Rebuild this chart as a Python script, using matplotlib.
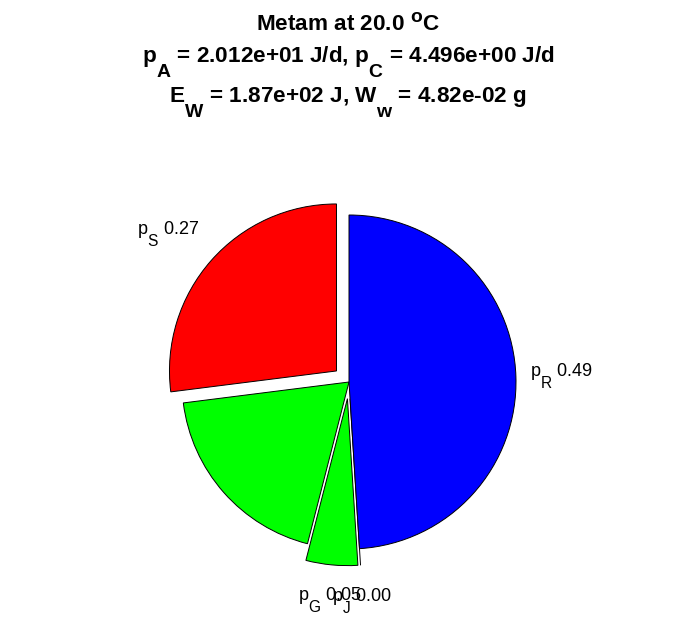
import matplotlib
matplotlib.use('Agg')
import matplotlib.pyplot as plt
import matplotlib._mathtext as _mt
import numpy as np

plt.rcParams['font.family'] = ['Liberation Sans', 'DejaVu Sans']
plt.rcParams['mathtext.fontset'] = 'custom'
plt.rcParams['mathtext.rm'] = 'Liberation Sans'
plt.rcParams['mathtext.it'] = 'Liberation Sans'
plt.rcParams['mathtext.bf'] = 'Liberation Sans:bold'

# MATLAB-style TeX: larger, lower subscripts
_mt.SHRINK_FACTOR = 0.86
_mt.FontConstantsBase.sub1 = 1.25
_mt.FontConstantsBase.sup1 = 0.7

# ---- data ----
species = 'Metam'
temp_C = 20.0
p_A = 2.012e+01
p_C = 4.496e+00
E_W = 1.87e+02
W_w = 4.82e-02

flux_labels = ['p_S', '', 'p_G', 'p_J', 'p_R']
fractions = [0.27, 0.19, 0.05, 0.00, 0.49]
colors = ['#ff0000', '#00ff00', '#00ff00', '#00ff00', '#0000ff']
explode = [0.1, 0.0, 0.1, 0.1, 0.0]

# ---- figure ----
W, H = 696, 618
fig = plt.figure(figsize=(W / 100, H / 100), dpi=100)
ax = fig.add_axes([0, 0, 1, 1])

wedges, _ = ax.pie(fractions, colors=colors, explode=explode, startangle=90,
                   counterclock=True, radius=1.0,
                   wedgeprops=dict(edgecolor='black', linewidth=0.7))

# geometry: pie centre at pixel (349, 382 from top), radius 167 px
R_px = 167.0
cx_px, cy_px = 349.0, H - 382.0
ax.set_xlim(-cx_px / R_px, (W - cx_px) / R_px)
ax.set_ylim(-cy_px / R_px, (H - cy_px) / R_px)
ax.set_aspect('auto')
ax.axis('off')

for w, lab, frac in zip(wedges, flux_labels, fractions):
    if not lab:
        continue
    mid = np.deg2rad((w.theta1 + w.theta2) / 2)
    c = np.cos(mid)
    s = np.sin(mid)
    x = w.center[0] + 1.1 * c
    y = w.center[1] + 1.1 * s
    ha = 'left' if c > 0.2 else ('right' if c < -0.2 else 'center')
    va = 'bottom' if s > 0.2 else ('top' if s < -0.2 else 'center')
    dy = -3 if va == 'top' else 0
    dx = -2 if ha == 'left' else 0
    ax.annotate(rf'$\mathregular{{{lab}}}$ {frac:.2f}', (x, y),
                xytext=(dx, dy), textcoords='offset points',
                ha=ha, va=va, fontsize=13)

fs_t = 16.2
fig.text(0.5, 1 - 31 / H, rf'{species} at {temp_C:.1f} $^\mathbf{{o}}$C',
         ha='center', va='baseline', fontsize=fs_t, fontweight='bold')
fig.text(0.5, 1 - 62 / H,
         rf'$\mathbf{{p_A}}$ = {p_A:.3e} J/d, $\mathbf{{p_C}}$ = {p_C:.3e} J/d',
         ha='center', va='baseline', fontsize=fs_t, fontweight='bold')
fig.text(0.5, 1 - 102 / H,
         rf'$\mathbf{{E_W}}$ = {E_W:.2e} J, $\mathbf{{W_w}}$ = {W_w:.2e} g',
         ha='center', va='baseline', fontsize=fs_t, fontweight='bold')

fig.savefig('out.png', dpi=100)
